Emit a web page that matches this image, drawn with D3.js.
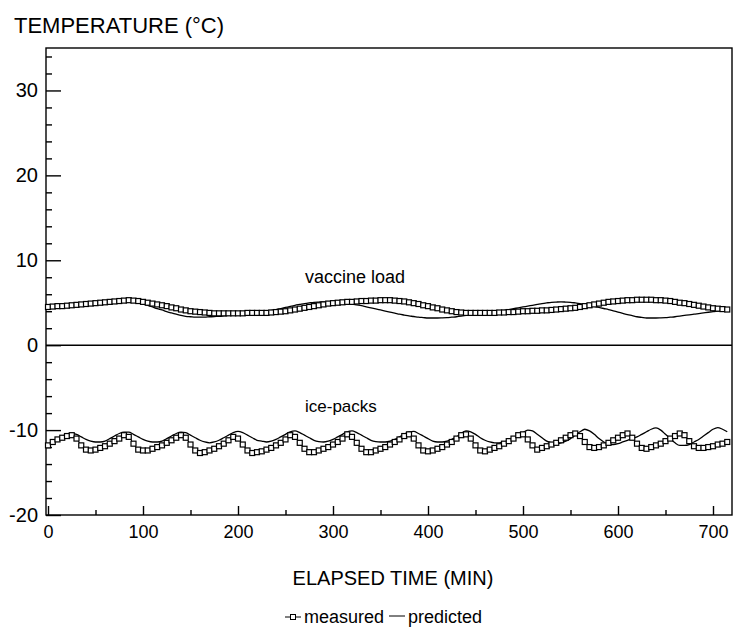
<!DOCTYPE html>
<html>
<head>
<meta charset="utf-8">
<script src="https://cdn.jsdelivr.net/npm/d3@7"></script>
<style>
  body { margin: 0; background: #fff; }
  svg { display: block; }
  text { font-family: "Liberation Sans", Arial, sans-serif; fill: #000; }
  .axis path, .axis line { stroke: #000; stroke-width: 1.4; }
  .axis text { font-size: 18px; }
  .yaxis text { font-size: 20px; }
</style>
</head>
<body>
<svg id="chart" width="734" height="627"></svg>
<script>
// sampling grid (minutes), one reading every 5 min
var minutes = d3.range(0, 720, 5);

var xTicksMajor = [0, 100, 200, 300, 400, 500, 600, 700];
var xTicksMinor = [50, 150, 250, 350, 450, 550, 650];
var yTicksMajor = [-20, -10, 0, 10, 20, 30];
var yTicksMinor = [-18, -16, -14, -12, -8, -6, -4, -2, 2, 4, 6, 8, 12, 14, 16, 18, 22, 24, 26, 28, 32, 34];

var vaccineMeasured = [
  4.5, 4.55, 4.6, 4.6, 4.65, 4.7, 4.75, 4.8, 4.85, 4.9, 4.95, 5.0, 5.05, 5.1, 5.15, 5.2, 5.25, 5.3,
  5.25, 5.2, 5.1, 5.0, 4.9, 4.8, 4.7, 4.6, 4.45, 4.35, 4.2, 4.1, 4.0, 3.95, 3.9, 3.85, 3.8, 3.75, 3.75,
  3.75, 3.75, 3.75, 3.75, 3.75, 3.8, 3.8, 3.8, 3.8, 3.8, 3.85, 3.9,
  3.95, 4.0, 4.1, 4.2, 4.3, 4.4, 4.5, 4.6, 4.7, 4.8, 4.9, 4.95, 5.0, 5.05, 5.1, 5.1, 5.15, 5.2,
  5.2, 5.25, 5.25, 5.3, 5.3, 5.3, 5.25, 5.2,
  5.15, 5.05, 4.95, 4.85, 4.7, 4.6, 4.45, 4.35, 4.2, 4.1, 4.0, 3.9, 3.85, 3.8,
  3.8, 3.8, 3.8, 3.8, 3.8, 3.8, 3.85, 3.85, 3.9, 3.9, 3.95, 4.0,
  4.0, 4.05, 4.05, 4.1, 4.1, 4.15, 4.2, 4.25, 4.3, 4.35, 4.4, 4.5, 4.6, 4.7, 4.8, 4.9, 5.0, 5.1,
  5.15, 5.2, 5.25, 5.3, 5.3, 5.35, 5.35, 5.35, 5.35, 5.3, 5.3, 5.25, 5.2, 5.1, 5.0, 4.95, 4.85,
  4.75, 4.65, 4.55, 4.45, 4.35, 4.3, 4.25, 4.2
];

var vaccinePredicted = [
  4.5, 4.55, 4.6, 4.65, 4.7, 4.75, 4.8, 4.85, 4.9, 4.95, 5.0, 5.05, 5.1, 5.15, 5.2, 5.25, 5.3,
  5.25, 5.15, 5.0, 4.85, 4.7, 4.5, 4.3, 4.15, 3.95, 3.8, 3.65, 3.5, 3.4, 3.35, 3.3, 3.3, 3.3,
  3.35, 3.38, 3.4, 3.45, 3.5, 3.55, 3.6, 3.65, 3.7, 3.75, 3.8, 3.9, 4.0, 4.1, 4.2, 4.3,
  4.45, 4.58, 4.7, 4.8, 4.9, 4.98, 5.05, 5.08, 5.1, 5.1, 5.1, 5.05, 5.0, 4.93, 4.85, 4.75,
  4.65, 4.52, 4.4, 4.28, 4.15, 4.02, 3.9, 3.78, 3.65, 3.55, 3.45, 3.38, 3.3, 3.25, 3.2, 3.2,
  3.2, 3.22, 3.25, 3.3, 3.35, 3.42, 3.5, 3.58, 3.65, 3.72, 3.8, 3.88, 3.95, 4.02, 4.1, 4.2,
  4.3, 4.4, 4.5, 4.6, 4.7, 4.8, 4.9, 4.98, 5.05, 5.08, 5.1, 5.08, 5.05, 4.98, 4.9, 4.8,
  4.7, 4.58, 4.45, 4.32, 4.2, 4.05, 3.9, 3.75, 3.6, 3.48, 3.35, 3.27, 3.2, 3.2, 3.2, 3.22,
  3.25, 3.3, 3.35, 3.42, 3.5, 3.58, 3.65, 3.72, 3.8, 3.88, 3.95, 4.02, 4.1, 4.15
];

var icepackMeasured = [
  -11.8, -11.4, -11.1, -10.9, -10.7, -10.6, -11.0, -11.8, -12.3, -12.4, -12.3, -12.1,
  -11.9, -11.6, -11.3, -11.0, -10.6, -10.8, -11.6, -12.3, -12.4, -12.4, -12.2, -12.0,
  -11.8, -11.5, -11.2, -10.9, -10.6, -10.9, -11.7, -12.4, -12.7, -12.6, -12.4, -12.2,
  -11.9, -11.6, -11.2, -10.8, -11.0, -11.7, -12.4, -12.7, -12.6, -12.5, -12.3, -12.1,
  -11.8, -11.5, -11.1, -10.6, -10.8, -11.5, -12.2, -12.6, -12.6, -12.4, -12.2, -12.0,
  -11.7, -11.4, -11.0, -10.5, -10.8, -11.5, -12.2, -12.6, -12.6, -12.4, -12.2, -12.0,
  -11.7, -11.4, -11.1, -10.7, -10.5, -11.0, -11.8, -12.4, -12.5, -12.4, -12.2, -12.0,
  -11.7, -11.4, -11.0, -10.6, -10.5, -11.0, -11.8, -12.4, -12.5, -12.3, -12.1, -11.9,
  -11.6, -11.3, -11.0, -10.6, -10.5, -11.1, -11.8, -12.3, -12.1, -11.9, -11.7, -11.5,
  -11.2, -10.9, -10.6, -10.4, -10.7, -11.4, -12.0, -12.1, -12.0, -11.8, -11.5, -11.2,
  -10.9, -10.6, -10.4, -10.9, -11.6, -12.1, -12.2, -12.0, -11.8, -11.6, -11.3, -11.0,
  -10.7, -10.4, -10.6, -11.3, -11.9, -12.1, -12.1, -12.0, -11.9, -11.7, -11.6, -11.4
];

var icepackPredicted = [
  -11.8, -11.4, -11.0, -10.7, -10.5, -10.4, -10.5, -10.8, -11.1, -11.3, -11.4, -11.4,
  -11.3, -11.0, -10.7, -10.4, -10.25, -10.25, -10.5, -10.8, -11.1, -11.3, -11.4, -11.4,
  -11.3, -11.0, -10.7, -10.4, -10.25, -10.3, -10.6, -10.9, -11.2, -11.4, -11.5, -11.4,
  -11.2, -10.9, -10.6, -10.3, -10.15, -10.3, -10.6, -10.9, -11.2, -11.3, -11.4, -11.3,
  -11.1, -10.8, -10.5, -10.2, -10.1, -10.3, -10.6, -10.9, -11.2, -11.35, -11.4, -11.3,
  -11.1, -10.8, -10.5, -10.2, -10.1, -10.3, -10.6, -10.9, -11.2, -11.35, -11.4, -11.4,
  -11.3, -11.1, -10.8, -10.5, -10.2, -10.15, -10.4, -10.7, -11.0, -11.3, -11.4, -11.4,
  -11.3, -11.1, -10.8, -10.4, -10.1, -10.2, -10.5, -10.9, -11.2, -11.4, -11.5, -11.5,
  -11.4, -11.2, -11.0, -10.7, -10.3, -10.0, -10.1, -10.5, -10.9, -11.3, -11.5, -11.6,
  -11.5, -11.3, -11.0, -10.6, -10.2, -9.9, -10.1, -10.5, -11.0, -11.4, -11.7, -11.7,
  -11.6, -11.4, -11.2, -11.0, -10.8, -10.5, -10.2, -9.9, -9.75, -10.0, -10.5, -11.0,
  -11.5, -11.8, -11.8, -11.7, -11.4, -11.1, -10.7, -10.3, -9.9, -9.7, -9.9, -10.2
];

var svg = d3.select("#chart");
var plotLeft = 46, plotRight = 732, plotTop = 48, plotBottom = 515;

var x = d3.scaleLinear().domain([0, 720]).range([48, plotRight]);
var y = d3.scaleLinear().domain([-20, 35]).range([plotBottom, plotTop]);
var plain = function(d) { return String(d); };   // hyphen minus like the original

// frame
svg.append("rect")
  .attr("x", plotLeft).attr("y", plotTop)
  .attr("width", plotRight - plotLeft).attr("height", plotBottom - plotTop)
  .attr("fill", "none").attr("stroke", "#000").attr("stroke-width", 1.4);

// zero line
svg.append("line")
  .attr("x1", plotLeft).attr("x2", plotRight)
  .attr("y1", y(0)).attr("y2", y(0))
  .attr("stroke", "#000").attr("stroke-width", 1.6);

// y axis, ticks inward
svg.append("g").attr("class", "axis")
  .attr("transform", "translate(" + plotLeft + ",0)")
  .call(d3.axisLeft(y).tickValues(yTicksMinor).tickSizeInner(-6).tickSizeOuter(0).tickFormat(""));
svg.append("g").attr("class", "axis yaxis")
  .attr("transform", "translate(" + plotLeft + ",0)")
  .call(d3.axisLeft(y).tickValues(yTicksMajor).tickSizeInner(-15).tickSizeOuter(0).tickPadding(8).tickFormat(plain));

// x axis, ticks inward
svg.append("g").attr("class", "axis")
  .attr("transform", "translate(0," + plotBottom + ")")
  .call(d3.axisBottom(x).tickValues(xTicksMinor).tickSizeInner(-5).tickSizeOuter(0).tickFormat(""));
svg.append("g").attr("class", "axis")
  .attr("transform", "translate(0," + plotBottom + ")")
  .call(d3.axisBottom(x).tickValues(xTicksMajor).tickSizeInner(-9).tickSizeOuter(0).tickPadding(10).tickFormat(plain));

svg.selectAll(".axis .domain").remove();

var line = d3.line()
  .x(function(d, i) { return x(minutes[i]); })
  .y(function(d) { return y(d); })
  .curve(d3.curveMonotoneX);

function drawPredicted(vals) {
  svg.append("path").datum(vals)
    .attr("d", line)
    .attr("fill", "none").attr("stroke", "#000").attr("stroke-width", 1.3);
}
function drawMeasured(vals) {
  svg.append("path").datum(vals)
    .attr("d", line)
    .attr("fill", "none").attr("stroke", "#000").attr("stroke-width", 1);
  svg.append("g").selectAll("rect")
    .data(vals).enter().append("rect")
    .attr("x", function(d, i) { return x(minutes[i]) - 2.5; })
    .attr("y", function(d) { return y(d) - 2.5; })
    .attr("width", 5).attr("height", 5)
    .attr("fill", "#fff").attr("stroke", "#000").attr("stroke-width", 1.2);
}

drawPredicted(vaccinePredicted);
drawPredicted(icepackPredicted);
drawMeasured(vaccineMeasured);
drawMeasured(icepackMeasured);

// labels
svg.append("text").attr("x", 14).attr("y", 33)
  .style("font-size", "22px").text("TEMPERATURE (°C)");

svg.append("text").attr("x", 305).attr("y", 283)
  .style("font-size", "18px").text("vaccine load");
svg.append("text").attr("x", 305).attr("y", 412)
  .style("font-size", "17px").text("ice-packs");

svg.append("text").attr("x", 393).attr("y", 585)
  .attr("text-anchor", "middle")
  .style("font-size", "20px").text("ELAPSED TIME (MIN)");

// legend
var lg = svg.append("g").attr("transform", "translate(0,617)");
lg.append("line").attr("x1", 285).attr("x2", 301).attr("y1", 0).attr("y2", 0)
  .attr("stroke", "#000").attr("stroke-width", 1);
lg.append("rect").attr("x", 290.5).attr("y", -2.5).attr("width", 5).attr("height", 5)
  .attr("fill", "#fff").attr("stroke", "#000").attr("stroke-width", 1);
lg.append("text").attr("x", 304).attr("y", 6).style("font-size", "18px").text("measured");
lg.append("line").attr("x1", 389).attr("x2", 405).attr("y1", -1).attr("y2", -1)
  .attr("stroke", "#000").attr("stroke-width", 1);
lg.append("text").attr("x", 408).attr("y", 6).style("font-size", "18px").text("predicted");
</script>
</body>
</html>
